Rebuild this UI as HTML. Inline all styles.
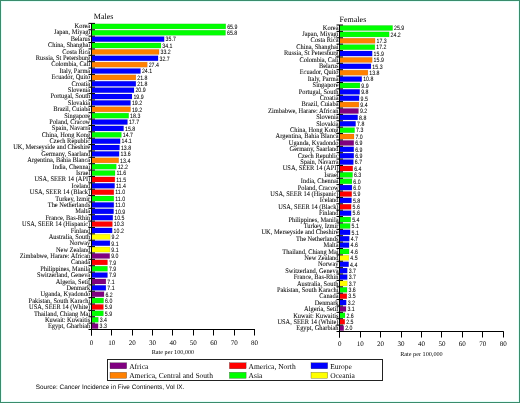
<!DOCTYPE html>
<html><head><meta charset="utf-8"><style>
html,body{margin:0;padding:0;background:#fff;}
body{width:520px;height:403px;overflow:hidden;}
svg{display:block;will-change:transform;}
text{font-family:"Liberation Serif",serif;fill:#000;text-rendering:geometricPrecision;}
.cl{font-size:7.040px;stroke:#000;stroke-width:0.12px;stroke-opacity:0.4;}
.vl{font-size:6.300px;font-family:"Liberation Sans",sans-serif;stroke:#000;stroke-width:0.1px;stroke-opacity:0.4;}
.xl{font-size:7px;}
.xt{font-size:6.2px;}
.tt{font-size:8px;}
.lg{font-size:7.5px;}
.src{font-family:"Liberation Sans",sans-serif;font-size:6.4px;}
</style></head><body>
<svg width="520" height="403" viewBox="0 0 520 403">
<rect x="0.5" y="0.5" width="519" height="402" fill="#fff" stroke="#3a8c6c" stroke-width="1"/>
<rect x="1.5" y="1.5" width="517" height="400" fill="none" stroke="#e4fffa" stroke-width="1"/>
<rect x="91.40" y="23.84" width="134.37" height="5.10" fill="#00ff00" stroke="#000" stroke-opacity="0.15" stroke-width="0.6"/>
<rect x="91.40" y="30.21" width="134.17" height="5.10" fill="#00ff00" stroke="#000" stroke-opacity="0.15" stroke-width="0.6"/>
<rect x="91.40" y="36.59" width="72.79" height="5.10" fill="#0000ff" stroke="#000" stroke-opacity="0.15" stroke-width="0.6"/>
<rect x="91.40" y="42.97" width="69.53" height="5.10" fill="#00ff00" stroke="#000" stroke-opacity="0.15" stroke-width="0.6"/>
<rect x="91.40" y="49.35" width="67.69" height="5.10" fill="#ff8000" stroke="#000" stroke-opacity="0.15" stroke-width="0.6"/>
<rect x="91.40" y="55.72" width="66.68" height="5.10" fill="#0000ff" stroke="#000" stroke-opacity="0.15" stroke-width="0.6"/>
<rect x="91.40" y="62.10" width="55.87" height="5.10" fill="#ff8000" stroke="#000" stroke-opacity="0.15" stroke-width="0.6"/>
<rect x="91.40" y="68.48" width="49.14" height="5.10" fill="#0000ff" stroke="#000" stroke-opacity="0.15" stroke-width="0.6"/>
<rect x="91.40" y="74.85" width="44.45" height="5.10" fill="#ff8000" stroke="#000" stroke-opacity="0.15" stroke-width="0.6"/>
<rect x="91.40" y="81.23" width="44.45" height="5.10" fill="#0000ff" stroke="#000" stroke-opacity="0.15" stroke-width="0.6"/>
<rect x="91.40" y="87.61" width="42.62" height="5.10" fill="#0000ff" stroke="#000" stroke-opacity="0.15" stroke-width="0.6"/>
<rect x="91.40" y="93.99" width="40.58" height="5.10" fill="#0000ff" stroke="#000" stroke-opacity="0.15" stroke-width="0.6"/>
<rect x="91.40" y="100.36" width="39.15" height="5.10" fill="#0000ff" stroke="#000" stroke-opacity="0.15" stroke-width="0.6"/>
<rect x="91.40" y="106.74" width="39.15" height="5.10" fill="#ff8000" stroke="#000" stroke-opacity="0.15" stroke-width="0.6"/>
<rect x="91.40" y="113.12" width="37.31" height="5.10" fill="#00ff00" stroke="#000" stroke-opacity="0.15" stroke-width="0.6"/>
<rect x="91.40" y="119.49" width="36.09" height="5.10" fill="#0000ff" stroke="#000" stroke-opacity="0.15" stroke-width="0.6"/>
<rect x="91.40" y="125.87" width="32.22" height="5.10" fill="#0000ff" stroke="#000" stroke-opacity="0.15" stroke-width="0.6"/>
<rect x="91.40" y="132.25" width="29.97" height="5.10" fill="#00ff00" stroke="#000" stroke-opacity="0.15" stroke-width="0.6"/>
<rect x="91.40" y="138.63" width="28.75" height="5.10" fill="#0000ff" stroke="#000" stroke-opacity="0.15" stroke-width="0.6"/>
<rect x="91.40" y="145.00" width="28.14" height="5.10" fill="#0000ff" stroke="#000" stroke-opacity="0.15" stroke-width="0.6"/>
<rect x="91.40" y="151.38" width="27.73" height="5.10" fill="#0000ff" stroke="#000" stroke-opacity="0.15" stroke-width="0.6"/>
<rect x="91.40" y="157.76" width="27.32" height="5.10" fill="#ff8000" stroke="#000" stroke-opacity="0.15" stroke-width="0.6"/>
<rect x="91.40" y="164.13" width="24.88" height="5.10" fill="#00ff00" stroke="#000" stroke-opacity="0.15" stroke-width="0.6"/>
<rect x="91.40" y="170.51" width="23.65" height="5.10" fill="#00ff00" stroke="#000" stroke-opacity="0.15" stroke-width="0.6"/>
<rect x="91.40" y="176.89" width="23.45" height="5.10" fill="#ff0000" stroke="#000" stroke-opacity="0.15" stroke-width="0.6"/>
<rect x="91.40" y="183.26" width="23.24" height="5.10" fill="#0000ff" stroke="#000" stroke-opacity="0.15" stroke-width="0.6"/>
<rect x="91.40" y="189.64" width="22.43" height="5.10" fill="#ff0000" stroke="#000" stroke-opacity="0.15" stroke-width="0.6"/>
<rect x="91.40" y="196.02" width="22.43" height="5.10" fill="#00ff00" stroke="#000" stroke-opacity="0.15" stroke-width="0.6"/>
<rect x="91.40" y="202.40" width="22.43" height="5.10" fill="#0000ff" stroke="#000" stroke-opacity="0.15" stroke-width="0.6"/>
<rect x="91.40" y="208.77" width="22.23" height="5.10" fill="#0000ff" stroke="#000" stroke-opacity="0.15" stroke-width="0.6"/>
<rect x="91.40" y="215.15" width="21.41" height="5.10" fill="#0000ff" stroke="#000" stroke-opacity="0.15" stroke-width="0.6"/>
<rect x="91.40" y="221.53" width="21.00" height="5.10" fill="#ff0000" stroke="#000" stroke-opacity="0.15" stroke-width="0.6"/>
<rect x="91.40" y="227.90" width="20.80" height="5.10" fill="#0000ff" stroke="#000" stroke-opacity="0.15" stroke-width="0.6"/>
<rect x="91.40" y="234.28" width="18.76" height="5.10" fill="#ffff00" stroke="#000" stroke-opacity="0.15" stroke-width="0.6"/>
<rect x="91.40" y="240.66" width="18.55" height="5.10" fill="#0000ff" stroke="#000" stroke-opacity="0.15" stroke-width="0.6"/>
<rect x="91.40" y="247.04" width="18.55" height="5.10" fill="#ffff00" stroke="#000" stroke-opacity="0.15" stroke-width="0.6"/>
<rect x="91.40" y="253.41" width="18.35" height="5.10" fill="#800080" stroke="#000" stroke-opacity="0.15" stroke-width="0.6"/>
<rect x="91.40" y="259.79" width="16.11" height="5.10" fill="#ff0000" stroke="#000" stroke-opacity="0.15" stroke-width="0.6"/>
<rect x="91.40" y="266.17" width="16.11" height="5.10" fill="#00ff00" stroke="#000" stroke-opacity="0.15" stroke-width="0.6"/>
<rect x="91.40" y="272.54" width="16.11" height="5.10" fill="#0000ff" stroke="#000" stroke-opacity="0.15" stroke-width="0.6"/>
<rect x="91.40" y="278.92" width="14.48" height="5.10" fill="#800080" stroke="#000" stroke-opacity="0.15" stroke-width="0.6"/>
<rect x="91.40" y="285.30" width="14.48" height="5.10" fill="#0000ff" stroke="#000" stroke-opacity="0.15" stroke-width="0.6"/>
<rect x="91.40" y="291.68" width="12.64" height="5.10" fill="#800080" stroke="#000" stroke-opacity="0.15" stroke-width="0.6"/>
<rect x="91.40" y="298.05" width="12.23" height="5.10" fill="#00ff00" stroke="#000" stroke-opacity="0.15" stroke-width="0.6"/>
<rect x="91.40" y="304.43" width="12.03" height="5.10" fill="#ff0000" stroke="#000" stroke-opacity="0.15" stroke-width="0.6"/>
<rect x="91.40" y="310.81" width="12.03" height="5.10" fill="#00ff00" stroke="#000" stroke-opacity="0.15" stroke-width="0.6"/>
<rect x="91.40" y="317.18" width="6.93" height="5.10" fill="#00ff00" stroke="#000" stroke-opacity="0.15" stroke-width="0.6"/>
<rect x="91.40" y="323.56" width="6.73" height="5.10" fill="#800080" stroke="#000" stroke-opacity="0.15" stroke-width="0.6"/>
<text transform="matrix(0.9091,0,0,1,90.20,28.09)" text-anchor="end" class="cl">Korea</text>
<text transform="matrix(0.9091,0,0,1,90.20,34.48)" text-anchor="end" class="cl">Japan, Miyagi</text>
<text transform="matrix(0.9091,0,0,1,90.20,40.86)" text-anchor="end" class="cl">Belarus</text>
<text transform="matrix(0.9091,0,0,1,90.20,47.25)" text-anchor="end" class="cl">China, Shanghai</text>
<text transform="matrix(0.9091,0,0,1,90.20,53.64)" text-anchor="end" class="cl">Costa Rica</text>
<text transform="matrix(0.9091,0,0,1,90.20,60.03)" text-anchor="end" class="cl">Russia, St Petersburg</text>
<text transform="matrix(0.9091,0,0,1,90.20,66.41)" text-anchor="end" class="cl">Colombia, Cali</text>
<text transform="matrix(0.9091,0,0,1,90.20,72.80)" text-anchor="end" class="cl">Italy, Parma</text>
<text transform="matrix(0.9091,0,0,1,90.20,79.19)" text-anchor="end" class="cl">Ecuador, Quito</text>
<text transform="matrix(0.9091,0,0,1,90.20,85.58)" text-anchor="end" class="cl">Croatia</text>
<text transform="matrix(0.9091,0,0,1,90.20,91.97)" text-anchor="end" class="cl">Slovenia</text>
<text transform="matrix(0.9091,0,0,1,90.20,98.35)" text-anchor="end" class="cl">Portugal, South</text>
<text transform="matrix(0.9091,0,0,1,90.20,104.74)" text-anchor="end" class="cl">Slovakia</text>
<text transform="matrix(0.9091,0,0,1,90.20,111.13)" text-anchor="end" class="cl">Brazil, Cuiaba</text>
<text transform="matrix(0.9091,0,0,1,90.20,117.52)" text-anchor="end" class="cl">Singapore</text>
<text transform="matrix(0.9091,0,0,1,90.20,123.90)" text-anchor="end" class="cl">Poland, Cracow</text>
<text transform="matrix(0.9091,0,0,1,90.20,130.29)" text-anchor="end" class="cl">Spain, Navarra</text>
<text transform="matrix(0.9091,0,0,1,90.20,136.68)" text-anchor="end" class="cl">China, Hong Kong</text>
<text transform="matrix(0.9091,0,0,1,90.20,143.07)" text-anchor="end" class="cl">Czech Republic</text>
<text transform="matrix(0.9091,0,0,1,90.20,149.46)" text-anchor="end" class="cl">UK, Merseyside and Cheshire</text>
<text transform="matrix(0.9091,0,0,1,90.20,155.84)" text-anchor="end" class="cl">Germany, Saarland</text>
<text transform="matrix(0.9091,0,0,1,90.20,162.23)" text-anchor="end" class="cl">Argentina, Bahia Blanca</text>
<text transform="matrix(0.9091,0,0,1,90.20,168.62)" text-anchor="end" class="cl">India, Chennai</text>
<text transform="matrix(0.9091,0,0,1,90.20,175.01)" text-anchor="end" class="cl">Israel</text>
<text transform="matrix(0.9091,0,0,1,90.20,181.39)" text-anchor="end" class="cl">USA, SEER 14 (API)</text>
<text transform="matrix(0.9091,0,0,1,90.20,187.78)" text-anchor="end" class="cl">Iceland</text>
<text transform="matrix(0.9091,0,0,1,90.20,194.17)" text-anchor="end" class="cl">USA, SEER 14 (Black)</text>
<text transform="matrix(0.9091,0,0,1,90.20,200.56)" text-anchor="end" class="cl">Turkey, Izmir</text>
<text transform="matrix(0.9091,0,0,1,90.20,206.94)" text-anchor="end" class="cl">The Netherlands</text>
<text transform="matrix(0.9091,0,0,1,90.20,213.33)" text-anchor="end" class="cl">Malta</text>
<text transform="matrix(0.9091,0,0,1,90.20,219.72)" text-anchor="end" class="cl">France, Bas-Rhin</text>
<text transform="matrix(0.9091,0,0,1,90.20,226.11)" text-anchor="end" class="cl">USA, SEER 14 (Hispanic)</text>
<text transform="matrix(0.9091,0,0,1,90.20,232.50)" text-anchor="end" class="cl">Finland</text>
<text transform="matrix(0.9091,0,0,1,90.20,238.88)" text-anchor="end" class="cl">Australia, South</text>
<text transform="matrix(0.9091,0,0,1,90.20,245.27)" text-anchor="end" class="cl">Norway</text>
<text transform="matrix(0.9091,0,0,1,90.20,251.66)" text-anchor="end" class="cl">New Zealand</text>
<text transform="matrix(0.9091,0,0,1,90.20,258.05)" text-anchor="end" class="cl">Zimbabwe, Harare: African</text>
<text transform="matrix(0.9091,0,0,1,90.20,264.43)" text-anchor="end" class="cl">Canada</text>
<text transform="matrix(0.9091,0,0,1,90.20,270.82)" text-anchor="end" class="cl">Philippines, Manila</text>
<text transform="matrix(0.9091,0,0,1,90.20,277.21)" text-anchor="end" class="cl">Switzerland, Geneva</text>
<text transform="matrix(0.9091,0,0,1,90.20,283.60)" text-anchor="end" class="cl">Algeria, Setif</text>
<text transform="matrix(0.9091,0,0,1,90.20,289.99)" text-anchor="end" class="cl">Denmark</text>
<text transform="matrix(0.9091,0,0,1,90.20,296.37)" text-anchor="end" class="cl">Uganda, Kyadondo</text>
<text transform="matrix(0.9091,0,0,1,90.20,302.76)" text-anchor="end" class="cl">Pakistan, South Karachi</text>
<text transform="matrix(0.9091,0,0,1,90.20,309.15)" text-anchor="end" class="cl">USA, SEER 14 (White)</text>
<text transform="matrix(0.9091,0,0,1,90.20,315.54)" text-anchor="end" class="cl">Thailand, Chiang Mai</text>
<text transform="matrix(0.9091,0,0,1,90.20,321.92)" text-anchor="end" class="cl">Kuwait: Kuwaitis</text>
<text transform="matrix(0.9091,0,0,1,90.20,328.31)" text-anchor="end" class="cl">Egypt, Gharbiah</text>
<text transform="matrix(0.8333,0,0,1,227.17,28.69)" class="vl">65.9</text>
<text transform="matrix(0.8333,0,0,1,226.97,35.07)" class="vl">65.8</text>
<text transform="matrix(0.8333,0,0,1,165.59,41.44)" class="vl">35.7</text>
<text transform="matrix(0.8333,0,0,1,162.33,47.82)" class="vl">34.1</text>
<text transform="matrix(0.8333,0,0,1,160.49,54.20)" class="vl">33.2</text>
<text transform="matrix(0.8333,0,0,1,159.48,60.57)" class="vl">32.7</text>
<text transform="matrix(0.8333,0,0,1,148.67,66.95)" class="vl">27.4</text>
<text transform="matrix(0.8333,0,0,1,141.94,73.33)" class="vl">24.1</text>
<text transform="matrix(0.8333,0,0,1,137.25,79.71)" class="vl">21.8</text>
<text transform="matrix(0.8333,0,0,1,137.25,86.08)" class="vl">21.8</text>
<text transform="matrix(0.8333,0,0,1,135.42,92.46)" class="vl">20.9</text>
<text transform="matrix(0.8333,0,0,1,133.38,98.84)" class="vl">19.9</text>
<text transform="matrix(0.8333,0,0,1,131.95,105.21)" class="vl">19.2</text>
<text transform="matrix(0.8333,0,0,1,131.95,111.59)" class="vl">19.2</text>
<text transform="matrix(0.8333,0,0,1,130.11,117.97)" class="vl">18.3</text>
<text transform="matrix(0.8333,0,0,1,128.89,124.34)" class="vl">17.7</text>
<text transform="matrix(0.8333,0,0,1,125.02,130.72)" class="vl">15.8</text>
<text transform="matrix(0.8333,0,0,1,122.77,137.10)" class="vl">14.7</text>
<text transform="matrix(0.8333,0,0,1,121.55,143.48)" class="vl">14.1</text>
<text transform="matrix(0.8333,0,0,1,120.94,149.85)" class="vl">13.8</text>
<text transform="matrix(0.8333,0,0,1,120.53,156.23)" class="vl">13.6</text>
<text transform="matrix(0.8333,0,0,1,120.12,162.61)" class="vl">13.4</text>
<text transform="matrix(0.8333,0,0,1,117.68,168.98)" class="vl">12.2</text>
<text transform="matrix(0.8333,0,0,1,116.45,175.36)" class="vl">11.6</text>
<text transform="matrix(0.8333,0,0,1,116.25,181.74)" class="vl">11.5</text>
<text transform="matrix(0.8333,0,0,1,116.04,188.12)" class="vl">11.4</text>
<text transform="matrix(0.8333,0,0,1,115.23,194.49)" class="vl">11.0</text>
<text transform="matrix(0.8333,0,0,1,115.23,200.87)" class="vl">11.0</text>
<text transform="matrix(0.8333,0,0,1,115.23,207.25)" class="vl">11.0</text>
<text transform="matrix(0.8333,0,0,1,115.03,213.62)" class="vl">10.9</text>
<text transform="matrix(0.8333,0,0,1,114.21,220.00)" class="vl">10.5</text>
<text transform="matrix(0.8333,0,0,1,113.80,226.38)" class="vl">10.3</text>
<text transform="matrix(0.8333,0,0,1,113.60,232.76)" class="vl">10.2</text>
<text transform="matrix(0.8333,0,0,1,111.56,239.13)" class="vl">9.2</text>
<text transform="matrix(0.8333,0,0,1,111.35,245.51)" class="vl">9.1</text>
<text transform="matrix(0.8333,0,0,1,111.35,251.89)" class="vl">9.1</text>
<text transform="matrix(0.8333,0,0,1,111.15,258.26)" class="vl">9.0</text>
<text transform="matrix(0.8333,0,0,1,108.91,264.64)" class="vl">7.9</text>
<text transform="matrix(0.8333,0,0,1,108.91,271.02)" class="vl">7.9</text>
<text transform="matrix(0.8333,0,0,1,108.91,277.39)" class="vl">7.9</text>
<text transform="matrix(0.8333,0,0,1,107.28,283.77)" class="vl">7.1</text>
<text transform="matrix(0.8333,0,0,1,107.28,290.15)" class="vl">7.1</text>
<text transform="matrix(0.8333,0,0,1,105.44,296.53)" class="vl">6.2</text>
<text transform="matrix(0.8333,0,0,1,105.03,302.90)" class="vl">6.0</text>
<text transform="matrix(0.8333,0,0,1,104.83,309.28)" class="vl">5.9</text>
<text transform="matrix(0.8333,0,0,1,104.83,315.66)" class="vl">5.9</text>
<text transform="matrix(0.8333,0,0,1,99.73,322.03)" class="vl">3.4</text>
<text transform="matrix(0.8333,0,0,1,99.53,328.41)" class="vl">3.3</text>
<line x1="91.5" y1="23.4" x2="91.5" y2="335.5" stroke="#000" stroke-width="1"/>
<line x1="88.5" y1="23.40" x2="95.0" y2="23.40" stroke="#000" stroke-width="1"/>
<line x1="88.5" y1="29.78" x2="95.0" y2="29.78" stroke="#000" stroke-width="1"/>
<line x1="88.5" y1="36.15" x2="95.0" y2="36.15" stroke="#000" stroke-width="1"/>
<line x1="88.5" y1="42.53" x2="95.0" y2="42.53" stroke="#000" stroke-width="1"/>
<line x1="88.5" y1="48.91" x2="95.0" y2="48.91" stroke="#000" stroke-width="1"/>
<line x1="88.5" y1="55.29" x2="95.0" y2="55.29" stroke="#000" stroke-width="1"/>
<line x1="88.5" y1="61.66" x2="95.0" y2="61.66" stroke="#000" stroke-width="1"/>
<line x1="88.5" y1="68.04" x2="95.0" y2="68.04" stroke="#000" stroke-width="1"/>
<line x1="88.5" y1="74.42" x2="95.0" y2="74.42" stroke="#000" stroke-width="1"/>
<line x1="88.5" y1="80.79" x2="95.0" y2="80.79" stroke="#000" stroke-width="1"/>
<line x1="88.5" y1="87.17" x2="95.0" y2="87.17" stroke="#000" stroke-width="1"/>
<line x1="88.5" y1="93.55" x2="95.0" y2="93.55" stroke="#000" stroke-width="1"/>
<line x1="88.5" y1="99.93" x2="95.0" y2="99.93" stroke="#000" stroke-width="1"/>
<line x1="88.5" y1="106.30" x2="95.0" y2="106.30" stroke="#000" stroke-width="1"/>
<line x1="88.5" y1="112.68" x2="95.0" y2="112.68" stroke="#000" stroke-width="1"/>
<line x1="88.5" y1="119.06" x2="95.0" y2="119.06" stroke="#000" stroke-width="1"/>
<line x1="88.5" y1="125.43" x2="95.0" y2="125.43" stroke="#000" stroke-width="1"/>
<line x1="88.5" y1="131.81" x2="95.0" y2="131.81" stroke="#000" stroke-width="1"/>
<line x1="88.5" y1="138.19" x2="95.0" y2="138.19" stroke="#000" stroke-width="1"/>
<line x1="88.5" y1="144.56" x2="95.0" y2="144.56" stroke="#000" stroke-width="1"/>
<line x1="88.5" y1="150.94" x2="95.0" y2="150.94" stroke="#000" stroke-width="1"/>
<line x1="88.5" y1="157.32" x2="95.0" y2="157.32" stroke="#000" stroke-width="1"/>
<line x1="88.5" y1="163.70" x2="95.0" y2="163.70" stroke="#000" stroke-width="1"/>
<line x1="88.5" y1="170.07" x2="95.0" y2="170.07" stroke="#000" stroke-width="1"/>
<line x1="88.5" y1="176.45" x2="95.0" y2="176.45" stroke="#000" stroke-width="1"/>
<line x1="88.5" y1="182.83" x2="95.0" y2="182.83" stroke="#000" stroke-width="1"/>
<line x1="88.5" y1="189.20" x2="95.0" y2="189.20" stroke="#000" stroke-width="1"/>
<line x1="88.5" y1="195.58" x2="95.0" y2="195.58" stroke="#000" stroke-width="1"/>
<line x1="88.5" y1="201.96" x2="95.0" y2="201.96" stroke="#000" stroke-width="1"/>
<line x1="88.5" y1="208.34" x2="95.0" y2="208.34" stroke="#000" stroke-width="1"/>
<line x1="88.5" y1="214.71" x2="95.0" y2="214.71" stroke="#000" stroke-width="1"/>
<line x1="88.5" y1="221.09" x2="95.0" y2="221.09" stroke="#000" stroke-width="1"/>
<line x1="88.5" y1="227.47" x2="95.0" y2="227.47" stroke="#000" stroke-width="1"/>
<line x1="88.5" y1="233.84" x2="95.0" y2="233.84" stroke="#000" stroke-width="1"/>
<line x1="88.5" y1="240.22" x2="95.0" y2="240.22" stroke="#000" stroke-width="1"/>
<line x1="88.5" y1="246.60" x2="95.0" y2="246.60" stroke="#000" stroke-width="1"/>
<line x1="88.5" y1="252.98" x2="95.0" y2="252.98" stroke="#000" stroke-width="1"/>
<line x1="88.5" y1="259.35" x2="95.0" y2="259.35" stroke="#000" stroke-width="1"/>
<line x1="88.5" y1="265.73" x2="95.0" y2="265.73" stroke="#000" stroke-width="1"/>
<line x1="88.5" y1="272.11" x2="95.0" y2="272.11" stroke="#000" stroke-width="1"/>
<line x1="88.5" y1="278.48" x2="95.0" y2="278.48" stroke="#000" stroke-width="1"/>
<line x1="88.5" y1="284.86" x2="95.0" y2="284.86" stroke="#000" stroke-width="1"/>
<line x1="88.5" y1="291.24" x2="95.0" y2="291.24" stroke="#000" stroke-width="1"/>
<line x1="88.5" y1="297.61" x2="95.0" y2="297.61" stroke="#000" stroke-width="1"/>
<line x1="88.5" y1="303.99" x2="95.0" y2="303.99" stroke="#000" stroke-width="1"/>
<line x1="88.5" y1="310.37" x2="95.0" y2="310.37" stroke="#000" stroke-width="1"/>
<line x1="88.5" y1="316.75" x2="95.0" y2="316.75" stroke="#000" stroke-width="1"/>
<line x1="88.5" y1="323.12" x2="95.0" y2="323.12" stroke="#000" stroke-width="1"/>
<line x1="88.5" y1="329.50" x2="95.0" y2="329.50" stroke="#000" stroke-width="1"/>
<line x1="91.5" y1="329.5" x2="255.02" y2="329.5" stroke="#000" stroke-width="1"/>
<line x1="91.50" y1="329.5" x2="91.50" y2="335.5" stroke="#000" stroke-width="1"/>
<text x="91.40" y="344.5" text-anchor="middle" class="xl">0</text>
<line x1="111.50" y1="329.5" x2="111.50" y2="335.5" stroke="#000" stroke-width="1"/>
<text x="111.79" y="344.5" text-anchor="middle" class="xl">10</text>
<line x1="132.50" y1="329.5" x2="132.50" y2="335.5" stroke="#000" stroke-width="1"/>
<text x="132.18" y="344.5" text-anchor="middle" class="xl">20</text>
<line x1="152.50" y1="329.5" x2="152.50" y2="335.5" stroke="#000" stroke-width="1"/>
<text x="152.57" y="344.5" text-anchor="middle" class="xl">30</text>
<line x1="172.50" y1="329.5" x2="172.50" y2="335.5" stroke="#000" stroke-width="1"/>
<text x="172.96" y="344.5" text-anchor="middle" class="xl">40</text>
<line x1="193.50" y1="329.5" x2="193.50" y2="335.5" stroke="#000" stroke-width="1"/>
<text x="193.35" y="344.5" text-anchor="middle" class="xl">50</text>
<line x1="213.50" y1="329.5" x2="213.50" y2="335.5" stroke="#000" stroke-width="1"/>
<text x="213.74" y="344.5" text-anchor="middle" class="xl">60</text>
<line x1="234.50" y1="329.5" x2="234.50" y2="335.5" stroke="#000" stroke-width="1"/>
<text x="234.13" y="344.5" text-anchor="middle" class="xl">70</text>
<line x1="254.50" y1="329.5" x2="254.50" y2="335.5" stroke="#000" stroke-width="1"/>
<text x="254.52" y="344.5" text-anchor="middle" class="xl">80</text>
<text x="172.96" y="353.9" text-anchor="middle" class="xt">Rate per 100,000</text>
<text x="93.8" y="18.9" class="tt">Males</text>
<rect x="339.70" y="25.44" width="52.94" height="5.11" fill="#00ff00" stroke="#000" stroke-opacity="0.15" stroke-width="0.6"/>
<rect x="339.70" y="31.82" width="49.46" height="5.11" fill="#00ff00" stroke="#000" stroke-opacity="0.15" stroke-width="0.6"/>
<rect x="339.70" y="38.21" width="35.36" height="5.11" fill="#ff8000" stroke="#000" stroke-opacity="0.15" stroke-width="0.6"/>
<rect x="339.70" y="44.59" width="35.16" height="5.11" fill="#00ff00" stroke="#000" stroke-opacity="0.15" stroke-width="0.6"/>
<rect x="339.70" y="50.98" width="32.50" height="5.11" fill="#0000ff" stroke="#000" stroke-opacity="0.15" stroke-width="0.6"/>
<rect x="339.70" y="57.37" width="32.50" height="5.11" fill="#ff8000" stroke="#000" stroke-opacity="0.15" stroke-width="0.6"/>
<rect x="339.70" y="63.75" width="31.27" height="5.11" fill="#0000ff" stroke="#000" stroke-opacity="0.15" stroke-width="0.6"/>
<rect x="339.70" y="70.14" width="28.21" height="5.11" fill="#ff8000" stroke="#000" stroke-opacity="0.15" stroke-width="0.6"/>
<rect x="339.70" y="76.52" width="22.08" height="5.11" fill="#0000ff" stroke="#000" stroke-opacity="0.15" stroke-width="0.6"/>
<rect x="339.70" y="82.91" width="20.24" height="5.11" fill="#00ff00" stroke="#000" stroke-opacity="0.15" stroke-width="0.6"/>
<rect x="339.70" y="89.29" width="20.03" height="5.11" fill="#0000ff" stroke="#000" stroke-opacity="0.15" stroke-width="0.6"/>
<rect x="339.70" y="95.68" width="19.42" height="5.11" fill="#0000ff" stroke="#000" stroke-opacity="0.15" stroke-width="0.6"/>
<rect x="339.70" y="102.06" width="19.21" height="5.11" fill="#ff8000" stroke="#000" stroke-opacity="0.15" stroke-width="0.6"/>
<rect x="339.70" y="108.45" width="18.80" height="5.11" fill="#800080" stroke="#000" stroke-opacity="0.15" stroke-width="0.6"/>
<rect x="339.70" y="114.83" width="17.99" height="5.11" fill="#0000ff" stroke="#000" stroke-opacity="0.15" stroke-width="0.6"/>
<rect x="339.70" y="121.22" width="15.94" height="5.11" fill="#0000ff" stroke="#000" stroke-opacity="0.15" stroke-width="0.6"/>
<rect x="339.70" y="127.61" width="14.92" height="5.11" fill="#00ff00" stroke="#000" stroke-opacity="0.15" stroke-width="0.6"/>
<rect x="339.70" y="133.99" width="14.31" height="5.11" fill="#ff8000" stroke="#000" stroke-opacity="0.15" stroke-width="0.6"/>
<rect x="339.70" y="140.38" width="14.10" height="5.11" fill="#800080" stroke="#000" stroke-opacity="0.15" stroke-width="0.6"/>
<rect x="339.70" y="146.76" width="14.10" height="5.11" fill="#0000ff" stroke="#000" stroke-opacity="0.15" stroke-width="0.6"/>
<rect x="339.70" y="153.15" width="14.10" height="5.11" fill="#0000ff" stroke="#000" stroke-opacity="0.15" stroke-width="0.6"/>
<rect x="339.70" y="159.53" width="13.69" height="5.11" fill="#0000ff" stroke="#000" stroke-opacity="0.15" stroke-width="0.6"/>
<rect x="339.70" y="165.92" width="13.08" height="5.11" fill="#ff0000" stroke="#000" stroke-opacity="0.15" stroke-width="0.6"/>
<rect x="339.70" y="172.30" width="12.88" height="5.11" fill="#00ff00" stroke="#000" stroke-opacity="0.15" stroke-width="0.6"/>
<rect x="339.70" y="178.69" width="12.26" height="5.11" fill="#00ff00" stroke="#000" stroke-opacity="0.15" stroke-width="0.6"/>
<rect x="339.70" y="185.07" width="12.26" height="5.11" fill="#0000ff" stroke="#000" stroke-opacity="0.15" stroke-width="0.6"/>
<rect x="339.70" y="191.46" width="12.06" height="5.11" fill="#ff0000" stroke="#000" stroke-opacity="0.15" stroke-width="0.6"/>
<rect x="339.70" y="197.84" width="11.86" height="5.11" fill="#0000ff" stroke="#000" stroke-opacity="0.15" stroke-width="0.6"/>
<rect x="339.70" y="204.23" width="11.45" height="5.11" fill="#ff0000" stroke="#000" stroke-opacity="0.15" stroke-width="0.6"/>
<rect x="339.70" y="210.62" width="11.45" height="5.11" fill="#0000ff" stroke="#000" stroke-opacity="0.15" stroke-width="0.6"/>
<rect x="339.70" y="217.00" width="11.04" height="5.11" fill="#00ff00" stroke="#000" stroke-opacity="0.15" stroke-width="0.6"/>
<rect x="339.70" y="223.39" width="10.42" height="5.11" fill="#00ff00" stroke="#000" stroke-opacity="0.15" stroke-width="0.6"/>
<rect x="339.70" y="229.77" width="10.42" height="5.11" fill="#0000ff" stroke="#000" stroke-opacity="0.15" stroke-width="0.6"/>
<rect x="339.70" y="236.16" width="9.61" height="5.11" fill="#0000ff" stroke="#000" stroke-opacity="0.15" stroke-width="0.6"/>
<rect x="339.70" y="242.54" width="9.40" height="5.11" fill="#0000ff" stroke="#000" stroke-opacity="0.15" stroke-width="0.6"/>
<rect x="339.70" y="248.93" width="9.40" height="5.11" fill="#00ff00" stroke="#000" stroke-opacity="0.15" stroke-width="0.6"/>
<rect x="339.70" y="255.31" width="9.20" height="5.11" fill="#ffff00" stroke="#000" stroke-opacity="0.15" stroke-width="0.6"/>
<rect x="339.70" y="261.70" width="8.99" height="5.11" fill="#0000ff" stroke="#000" stroke-opacity="0.15" stroke-width="0.6"/>
<rect x="339.70" y="268.08" width="7.56" height="5.11" fill="#0000ff" stroke="#000" stroke-opacity="0.15" stroke-width="0.6"/>
<rect x="339.70" y="274.47" width="7.56" height="5.11" fill="#0000ff" stroke="#000" stroke-opacity="0.15" stroke-width="0.6"/>
<rect x="339.70" y="280.86" width="7.56" height="5.11" fill="#ffff00" stroke="#000" stroke-opacity="0.15" stroke-width="0.6"/>
<rect x="339.70" y="287.24" width="7.36" height="5.11" fill="#00ff00" stroke="#000" stroke-opacity="0.15" stroke-width="0.6"/>
<rect x="339.70" y="293.63" width="7.15" height="5.11" fill="#ff0000" stroke="#000" stroke-opacity="0.15" stroke-width="0.6"/>
<rect x="339.70" y="300.01" width="6.54" height="5.11" fill="#0000ff" stroke="#000" stroke-opacity="0.15" stroke-width="0.6"/>
<rect x="339.70" y="306.40" width="6.34" height="5.11" fill="#800080" stroke="#000" stroke-opacity="0.15" stroke-width="0.6"/>
<rect x="339.70" y="312.78" width="5.31" height="5.11" fill="#00ff00" stroke="#000" stroke-opacity="0.15" stroke-width="0.6"/>
<rect x="339.70" y="319.17" width="5.11" height="5.11" fill="#ff0000" stroke="#000" stroke-opacity="0.15" stroke-width="0.6"/>
<rect x="339.70" y="325.55" width="4.09" height="5.11" fill="#800080" stroke="#000" stroke-opacity="0.15" stroke-width="0.6"/>
<text transform="matrix(0.9091,0,0,1,338.50,29.69)" text-anchor="end" class="cl">Korea</text>
<text transform="matrix(0.9091,0,0,1,338.50,36.09)" text-anchor="end" class="cl">Japan, Miyagi</text>
<text transform="matrix(0.9091,0,0,1,338.50,42.48)" text-anchor="end" class="cl">Costa Rica</text>
<text transform="matrix(0.9091,0,0,1,338.50,48.88)" text-anchor="end" class="cl">China, Shanghai</text>
<text transform="matrix(0.9091,0,0,1,338.50,55.28)" text-anchor="end" class="cl">Russia, St Petersburg</text>
<text transform="matrix(0.9091,0,0,1,338.50,61.67)" text-anchor="end" class="cl">Colombia, Cali</text>
<text transform="matrix(0.9091,0,0,1,338.50,68.07)" text-anchor="end" class="cl">Belarus</text>
<text transform="matrix(0.9091,0,0,1,338.50,74.47)" text-anchor="end" class="cl">Ecuador, Quito</text>
<text transform="matrix(0.9091,0,0,1,338.50,80.86)" text-anchor="end" class="cl">Italy, Parma</text>
<text transform="matrix(0.9091,0,0,1,338.50,87.26)" text-anchor="end" class="cl">Singapore</text>
<text transform="matrix(0.9091,0,0,1,338.50,93.65)" text-anchor="end" class="cl">Portugal, South</text>
<text transform="matrix(0.9091,0,0,1,338.50,100.05)" text-anchor="end" class="cl">Croatia</text>
<text transform="matrix(0.9091,0,0,1,338.50,106.45)" text-anchor="end" class="cl">Brazil, Cuiaba</text>
<text transform="matrix(0.9091,0,0,1,338.50,112.84)" text-anchor="end" class="cl">Zimbabwe, Harare: African</text>
<text transform="matrix(0.9091,0,0,1,338.50,119.24)" text-anchor="end" class="cl">Slovenia</text>
<text transform="matrix(0.9091,0,0,1,338.50,125.63)" text-anchor="end" class="cl">Slovakia</text>
<text transform="matrix(0.9091,0,0,1,338.50,132.03)" text-anchor="end" class="cl">China, Hong Kong</text>
<text transform="matrix(0.9091,0,0,1,338.50,138.43)" text-anchor="end" class="cl">Argentina, Bahia Blanca</text>
<text transform="matrix(0.9091,0,0,1,338.50,144.82)" text-anchor="end" class="cl">Uganda, Kyadondo</text>
<text transform="matrix(0.9091,0,0,1,338.50,151.22)" text-anchor="end" class="cl">Germany, Saarland</text>
<text transform="matrix(0.9091,0,0,1,338.50,157.61)" text-anchor="end" class="cl">Czech Republic</text>
<text transform="matrix(0.9091,0,0,1,338.50,164.01)" text-anchor="end" class="cl">Spain, Navarra</text>
<text transform="matrix(0.9091,0,0,1,338.50,170.41)" text-anchor="end" class="cl">USA, SEER 14 (API)</text>
<text transform="matrix(0.9091,0,0,1,338.50,176.80)" text-anchor="end" class="cl">Israel</text>
<text transform="matrix(0.9091,0,0,1,338.50,183.20)" text-anchor="end" class="cl">India, Chennai</text>
<text transform="matrix(0.9091,0,0,1,338.50,189.59)" text-anchor="end" class="cl">Poland, Cracow</text>
<text transform="matrix(0.9091,0,0,1,338.50,195.99)" text-anchor="end" class="cl">USA, SEER 14 (Hispanic)</text>
<text transform="matrix(0.9091,0,0,1,338.50,202.39)" text-anchor="end" class="cl">Iceland</text>
<text transform="matrix(0.9091,0,0,1,338.50,208.78)" text-anchor="end" class="cl">USA, SEER 14 (Black)</text>
<text transform="matrix(0.9091,0,0,1,338.50,215.18)" text-anchor="end" class="cl">Finland</text>
<text transform="matrix(0.9091,0,0,1,338.50,221.57)" text-anchor="end" class="cl">Philippines, Manila</text>
<text transform="matrix(0.9091,0,0,1,338.50,227.97)" text-anchor="end" class="cl">Turkey, Izmir</text>
<text transform="matrix(0.9091,0,0,1,338.50,234.37)" text-anchor="end" class="cl">UK, Merseyside and Cheshire</text>
<text transform="matrix(0.9091,0,0,1,338.50,240.76)" text-anchor="end" class="cl">The Netherlands</text>
<text transform="matrix(0.9091,0,0,1,338.50,247.16)" text-anchor="end" class="cl">Malta</text>
<text transform="matrix(0.9091,0,0,1,338.50,253.55)" text-anchor="end" class="cl">Thailand, Chiang Mai</text>
<text transform="matrix(0.9091,0,0,1,338.50,259.95)" text-anchor="end" class="cl">New Zealand</text>
<text transform="matrix(0.9091,0,0,1,338.50,266.35)" text-anchor="end" class="cl">Norway</text>
<text transform="matrix(0.9091,0,0,1,338.50,272.74)" text-anchor="end" class="cl">Switzerland, Geneva</text>
<text transform="matrix(0.9091,0,0,1,338.50,279.14)" text-anchor="end" class="cl">France, Bas-Rhin</text>
<text transform="matrix(0.9091,0,0,1,338.50,285.53)" text-anchor="end" class="cl">Australia, South</text>
<text transform="matrix(0.9091,0,0,1,338.50,291.93)" text-anchor="end" class="cl">Pakistan, South Karachi</text>
<text transform="matrix(0.9091,0,0,1,338.50,298.33)" text-anchor="end" class="cl">Canada</text>
<text transform="matrix(0.9091,0,0,1,338.50,304.72)" text-anchor="end" class="cl">Denmark</text>
<text transform="matrix(0.9091,0,0,1,338.50,311.12)" text-anchor="end" class="cl">Algeria, Setif</text>
<text transform="matrix(0.9091,0,0,1,338.50,317.52)" text-anchor="end" class="cl">Kuwait: Kuwaitis</text>
<text transform="matrix(0.9091,0,0,1,338.50,323.91)" text-anchor="end" class="cl">USA, SEER 14 (White)</text>
<text transform="matrix(0.9091,0,0,1,338.50,330.31)" text-anchor="end" class="cl">Egypt, Gharbiah</text>
<text transform="matrix(0.8333,0,0,1,394.04,30.29)" class="vl">25.9</text>
<text transform="matrix(0.8333,0,0,1,390.56,36.68)" class="vl">24.2</text>
<text transform="matrix(0.8333,0,0,1,376.46,43.06)" class="vl">17.3</text>
<text transform="matrix(0.8333,0,0,1,376.26,49.45)" class="vl">17.2</text>
<text transform="matrix(0.8333,0,0,1,373.60,55.83)" class="vl">15.9</text>
<text transform="matrix(0.8333,0,0,1,373.60,62.22)" class="vl">15.9</text>
<text transform="matrix(0.8333,0,0,1,372.37,68.61)" class="vl">15.3</text>
<text transform="matrix(0.8333,0,0,1,369.31,74.99)" class="vl">13.8</text>
<text transform="matrix(0.8333,0,0,1,363.18,81.38)" class="vl">10.8</text>
<text transform="matrix(0.8333,0,0,1,361.34,87.76)" class="vl">9.9</text>
<text transform="matrix(0.8333,0,0,1,361.13,94.15)" class="vl">9.8</text>
<text transform="matrix(0.8333,0,0,1,360.52,100.53)" class="vl">9.5</text>
<text transform="matrix(0.8333,0,0,1,360.31,106.92)" class="vl">9.4</text>
<text transform="matrix(0.8333,0,0,1,359.90,113.30)" class="vl">9.2</text>
<text transform="matrix(0.8333,0,0,1,359.09,119.69)" class="vl">8.8</text>
<text transform="matrix(0.8333,0,0,1,357.04,126.07)" class="vl">7.8</text>
<text transform="matrix(0.8333,0,0,1,356.02,132.46)" class="vl">7.3</text>
<text transform="matrix(0.8333,0,0,1,355.41,138.84)" class="vl">7.0</text>
<text transform="matrix(0.8333,0,0,1,355.20,145.23)" class="vl">6.9</text>
<text transform="matrix(0.8333,0,0,1,355.20,151.62)" class="vl">6.9</text>
<text transform="matrix(0.8333,0,0,1,355.20,158.00)" class="vl">6.9</text>
<text transform="matrix(0.8333,0,0,1,354.79,164.39)" class="vl">6.7</text>
<text transform="matrix(0.8333,0,0,1,354.18,170.77)" class="vl">6.4</text>
<text transform="matrix(0.8333,0,0,1,353.98,177.16)" class="vl">6.3</text>
<text transform="matrix(0.8333,0,0,1,353.36,183.54)" class="vl">6.0</text>
<text transform="matrix(0.8333,0,0,1,353.36,189.93)" class="vl">6.0</text>
<text transform="matrix(0.8333,0,0,1,353.16,196.31)" class="vl">5.9</text>
<text transform="matrix(0.8333,0,0,1,352.96,202.70)" class="vl">5.8</text>
<text transform="matrix(0.8333,0,0,1,352.55,209.08)" class="vl">5.6</text>
<text transform="matrix(0.8333,0,0,1,352.55,215.47)" class="vl">5.6</text>
<text transform="matrix(0.8333,0,0,1,352.14,221.86)" class="vl">5.4</text>
<text transform="matrix(0.8333,0,0,1,351.52,228.24)" class="vl">5.1</text>
<text transform="matrix(0.8333,0,0,1,351.52,234.63)" class="vl">5.1</text>
<text transform="matrix(0.8333,0,0,1,350.71,241.01)" class="vl">4.7</text>
<text transform="matrix(0.8333,0,0,1,350.50,247.40)" class="vl">4.6</text>
<text transform="matrix(0.8333,0,0,1,350.50,253.78)" class="vl">4.6</text>
<text transform="matrix(0.8333,0,0,1,350.30,260.17)" class="vl">4.5</text>
<text transform="matrix(0.8333,0,0,1,350.09,266.55)" class="vl">4.4</text>
<text transform="matrix(0.8333,0,0,1,348.66,272.94)" class="vl">3.7</text>
<text transform="matrix(0.8333,0,0,1,348.66,279.32)" class="vl">3.7</text>
<text transform="matrix(0.8333,0,0,1,348.66,285.71)" class="vl">3.7</text>
<text transform="matrix(0.8333,0,0,1,348.46,292.09)" class="vl">3.6</text>
<text transform="matrix(0.8333,0,0,1,348.25,298.48)" class="vl">3.5</text>
<text transform="matrix(0.8333,0,0,1,347.64,304.87)" class="vl">3.2</text>
<text transform="matrix(0.8333,0,0,1,347.44,311.25)" class="vl">3.1</text>
<text transform="matrix(0.8333,0,0,1,346.41,317.64)" class="vl">2.6</text>
<text transform="matrix(0.8333,0,0,1,346.21,324.02)" class="vl">2.5</text>
<text transform="matrix(0.8333,0,0,1,345.19,330.41)" class="vl">2.0</text>
<line x1="339.5" y1="25.0" x2="339.5" y2="337.5" stroke="#000" stroke-width="1"/>
<line x1="336.5" y1="25.00" x2="343.0" y2="25.00" stroke="#000" stroke-width="1"/>
<line x1="336.5" y1="31.39" x2="343.0" y2="31.39" stroke="#000" stroke-width="1"/>
<line x1="336.5" y1="37.77" x2="343.0" y2="37.77" stroke="#000" stroke-width="1"/>
<line x1="336.5" y1="44.16" x2="343.0" y2="44.16" stroke="#000" stroke-width="1"/>
<line x1="336.5" y1="50.54" x2="343.0" y2="50.54" stroke="#000" stroke-width="1"/>
<line x1="336.5" y1="56.93" x2="343.0" y2="56.93" stroke="#000" stroke-width="1"/>
<line x1="336.5" y1="63.31" x2="343.0" y2="63.31" stroke="#000" stroke-width="1"/>
<line x1="336.5" y1="69.70" x2="343.0" y2="69.70" stroke="#000" stroke-width="1"/>
<line x1="336.5" y1="76.08" x2="343.0" y2="76.08" stroke="#000" stroke-width="1"/>
<line x1="336.5" y1="82.47" x2="343.0" y2="82.47" stroke="#000" stroke-width="1"/>
<line x1="336.5" y1="88.85" x2="343.0" y2="88.85" stroke="#000" stroke-width="1"/>
<line x1="336.5" y1="95.24" x2="343.0" y2="95.24" stroke="#000" stroke-width="1"/>
<line x1="336.5" y1="101.62" x2="343.0" y2="101.62" stroke="#000" stroke-width="1"/>
<line x1="336.5" y1="108.01" x2="343.0" y2="108.01" stroke="#000" stroke-width="1"/>
<line x1="336.5" y1="114.40" x2="343.0" y2="114.40" stroke="#000" stroke-width="1"/>
<line x1="336.5" y1="120.78" x2="343.0" y2="120.78" stroke="#000" stroke-width="1"/>
<line x1="336.5" y1="127.17" x2="343.0" y2="127.17" stroke="#000" stroke-width="1"/>
<line x1="336.5" y1="133.55" x2="343.0" y2="133.55" stroke="#000" stroke-width="1"/>
<line x1="336.5" y1="139.94" x2="343.0" y2="139.94" stroke="#000" stroke-width="1"/>
<line x1="336.5" y1="146.32" x2="343.0" y2="146.32" stroke="#000" stroke-width="1"/>
<line x1="336.5" y1="152.71" x2="343.0" y2="152.71" stroke="#000" stroke-width="1"/>
<line x1="336.5" y1="159.09" x2="343.0" y2="159.09" stroke="#000" stroke-width="1"/>
<line x1="336.5" y1="165.48" x2="343.0" y2="165.48" stroke="#000" stroke-width="1"/>
<line x1="336.5" y1="171.86" x2="343.0" y2="171.86" stroke="#000" stroke-width="1"/>
<line x1="336.5" y1="178.25" x2="343.0" y2="178.25" stroke="#000" stroke-width="1"/>
<line x1="336.5" y1="184.64" x2="343.0" y2="184.64" stroke="#000" stroke-width="1"/>
<line x1="336.5" y1="191.02" x2="343.0" y2="191.02" stroke="#000" stroke-width="1"/>
<line x1="336.5" y1="197.41" x2="343.0" y2="197.41" stroke="#000" stroke-width="1"/>
<line x1="336.5" y1="203.79" x2="343.0" y2="203.79" stroke="#000" stroke-width="1"/>
<line x1="336.5" y1="210.18" x2="343.0" y2="210.18" stroke="#000" stroke-width="1"/>
<line x1="336.5" y1="216.56" x2="343.0" y2="216.56" stroke="#000" stroke-width="1"/>
<line x1="336.5" y1="222.95" x2="343.0" y2="222.95" stroke="#000" stroke-width="1"/>
<line x1="336.5" y1="229.33" x2="343.0" y2="229.33" stroke="#000" stroke-width="1"/>
<line x1="336.5" y1="235.72" x2="343.0" y2="235.72" stroke="#000" stroke-width="1"/>
<line x1="336.5" y1="242.10" x2="343.0" y2="242.10" stroke="#000" stroke-width="1"/>
<line x1="336.5" y1="248.49" x2="343.0" y2="248.49" stroke="#000" stroke-width="1"/>
<line x1="336.5" y1="254.88" x2="343.0" y2="254.88" stroke="#000" stroke-width="1"/>
<line x1="336.5" y1="261.26" x2="343.0" y2="261.26" stroke="#000" stroke-width="1"/>
<line x1="336.5" y1="267.65" x2="343.0" y2="267.65" stroke="#000" stroke-width="1"/>
<line x1="336.5" y1="274.03" x2="343.0" y2="274.03" stroke="#000" stroke-width="1"/>
<line x1="336.5" y1="280.42" x2="343.0" y2="280.42" stroke="#000" stroke-width="1"/>
<line x1="336.5" y1="286.80" x2="343.0" y2="286.80" stroke="#000" stroke-width="1"/>
<line x1="336.5" y1="293.19" x2="343.0" y2="293.19" stroke="#000" stroke-width="1"/>
<line x1="336.5" y1="299.57" x2="343.0" y2="299.57" stroke="#000" stroke-width="1"/>
<line x1="336.5" y1="305.96" x2="343.0" y2="305.96" stroke="#000" stroke-width="1"/>
<line x1="336.5" y1="312.34" x2="343.0" y2="312.34" stroke="#000" stroke-width="1"/>
<line x1="336.5" y1="318.73" x2="343.0" y2="318.73" stroke="#000" stroke-width="1"/>
<line x1="336.5" y1="325.11" x2="343.0" y2="325.11" stroke="#000" stroke-width="1"/>
<line x1="336.5" y1="331.50" x2="343.0" y2="331.50" stroke="#000" stroke-width="1"/>
<line x1="339.5" y1="331.5" x2="503.72" y2="331.5" stroke="#000" stroke-width="1"/>
<line x1="339.50" y1="331.5" x2="339.50" y2="337.5" stroke="#000" stroke-width="1"/>
<text x="339.70" y="346.3" text-anchor="middle" class="xl">0</text>
<line x1="360.50" y1="331.5" x2="360.50" y2="337.5" stroke="#000" stroke-width="1"/>
<text x="360.14" y="346.3" text-anchor="middle" class="xl">10</text>
<line x1="380.50" y1="331.5" x2="380.50" y2="337.5" stroke="#000" stroke-width="1"/>
<text x="380.58" y="346.3" text-anchor="middle" class="xl">20</text>
<line x1="401.50" y1="331.5" x2="401.50" y2="337.5" stroke="#000" stroke-width="1"/>
<text x="401.02" y="346.3" text-anchor="middle" class="xl">30</text>
<line x1="421.50" y1="331.5" x2="421.50" y2="337.5" stroke="#000" stroke-width="1"/>
<text x="421.46" y="346.3" text-anchor="middle" class="xl">40</text>
<line x1="441.50" y1="331.5" x2="441.50" y2="337.5" stroke="#000" stroke-width="1"/>
<text x="441.90" y="346.3" text-anchor="middle" class="xl">50</text>
<line x1="462.50" y1="331.5" x2="462.50" y2="337.5" stroke="#000" stroke-width="1"/>
<text x="462.34" y="346.3" text-anchor="middle" class="xl">60</text>
<line x1="482.50" y1="331.5" x2="482.50" y2="337.5" stroke="#000" stroke-width="1"/>
<text x="482.78" y="346.3" text-anchor="middle" class="xl">70</text>
<line x1="503.50" y1="331.5" x2="503.50" y2="337.5" stroke="#000" stroke-width="1"/>
<text x="503.22" y="346.3" text-anchor="middle" class="xl">80</text>
<text x="421.46" y="355.5" text-anchor="middle" class="xt">Rate per 100,000</text>
<text x="339.6" y="21.7" class="tt">Females</text>
<rect x="107.5" y="359.5" width="275" height="21" fill="#fff" stroke="#222" stroke-width="1"/>
<rect x="110" y="362.8" width="16.7" height="6" fill="#800080" stroke="#333" stroke-width="0.3"/>
<text x="129.2" y="368.6" class="lg">Africa</text>
<rect x="110" y="372.3" width="16.7" height="6" fill="#ff8000" stroke="#333" stroke-width="0.3"/>
<text x="129.2" y="378.1" class="lg">America, Central and South</text>
<rect x="229.4" y="362.8" width="16.7" height="6" fill="#ff0000" stroke="#333" stroke-width="0.3"/>
<text x="248.6" y="368.6" class="lg">America, North</text>
<rect x="229.4" y="372.3" width="16.7" height="6" fill="#00ff00" stroke="#333" stroke-width="0.3"/>
<text x="248.6" y="378.1" class="lg">Asia</text>
<rect x="311" y="362.8" width="16.7" height="6" fill="#0000ff" stroke="#333" stroke-width="0.3"/>
<text x="330.2" y="368.6" class="lg">Europe</text>
<rect x="311" y="372.3" width="16.7" height="6" fill="#ffff00" stroke="#333" stroke-width="0.3"/>
<text x="330.2" y="378.1" class="lg">Oceania</text>
<text x="35.8" y="388.7" class="src">Source: Cancer Incidence in Five Continents, Vol IX.</text>
</svg>
</body></html>
